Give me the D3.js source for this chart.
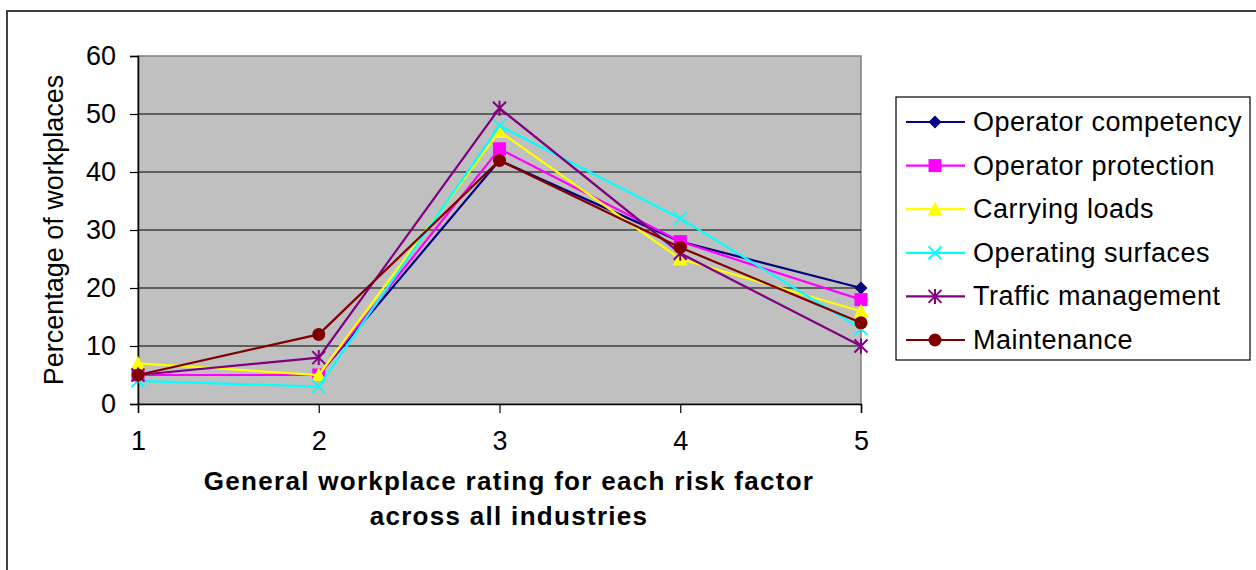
<!DOCTYPE html>
<html><head><meta charset="utf-8">
<script src="https://cdn.jsdelivr.net/npm/d3@7"></script>
<style>body{margin:0;background:#fff;} svg{display:block;font-family:"Liberation Sans",Arial,sans-serif;}</style>
</head><body><svg id="c" width="1256" height="570"></svg>
<script>
const categories = [1, 2, 3, 4, 5];
const seriesNames = ["Operator competency","Operator protection","Carrying loads","Operating surfaces","Traffic management","Maintenance"];
const operatorCompetency = [5, 5, 42, 28, 20];
const operatorProtection = [5, 5, 44, 28, 18];
const carryingLoads = [7, 5, 47, 25, 16];
const operatingSurfaces = [4, 3, 48, 32, 13];
const trafficManagement = [5, 8, 51, 26, 10];
const maintenance = [5, 12, 42, 27, 14];
const yTicks = [0, 10, 20, 30, 40, 50, 60];
const xTitleLines = ["General workplace rating for each risk factor", "across all industries"];
const yTitle = "Percentage of workplaces";

const colors = ["#000080","#FF00FF","#FFFF00","#00FFFF","#800080","#800000"];
const markers = ["diamond","square","triangle","x","star","circle"];
const allValues = [operatorCompetency, operatorProtection, carryingLoads, operatingSurfaces, trafficManagement, maintenance];
const series = seriesNames.map((n,i)=>({name:n, values:allValues[i], color:colors[i], marker:markers[i]}));

const svg = d3.select("#c");
svg.append("rect").attr("x",7).attr("y",11).attr("width",1280).attr("height",600)
  .attr("fill","none").attr("stroke","#404040").attr("stroke-width",2);

const L=138, R=861, T=56, B=404;
const x = d3.scaleLinear().domain([1,5]).range([L,R]);
const y = d3.scaleLinear().domain([0,60]).range([B,T]);

svg.append("rect").attr("x",L).attr("y",T).attr("width",R-L).attr("height",B-T).attr("fill","#C0C0C0")
  .attr("stroke","#808080").attr("stroke-width",1.5);

svg.append("g").selectAll("line").data(yTicks.filter(t=>t>0&&t<60)).join("line")
  .attr("x1",L).attr("x2",R).attr("y1",d=>y(d)).attr("y2",d=>y(d))
  .attr("stroke","#000").attr("stroke-width",1.2);

const yAxis = d3.axisLeft(y).tickValues(yTicks).tickSize(8).tickPadding(10).tickFormat(d3.format("d"));
const gy = svg.append("g").attr("transform",`translate(${L},0)`).call(yAxis);
gy.select(".domain").attr("stroke","#000").attr("stroke-width",1.5);
gy.selectAll(".tick line").attr("stroke","#000").attr("stroke-width",1.2);
gy.selectAll(".tick text").attr("font-size","27px").attr("fill","#000").attr("font-family","Liberation Sans, Arial, sans-serif").attr("dx","-4px");

const xAxis = d3.axisBottom(x).tickValues(categories).tickSize(9).tickPadding(18).tickFormat(d3.format("d"));
const gx = svg.append("g").attr("transform",`translate(0,${B})`).call(xAxis);
gx.select(".domain").attr("stroke","#000").attr("stroke-width",1.5);
gx.selectAll(".tick line").attr("stroke","#000").attr("stroke-width",1.2);
gx.selectAll(".tick text").attr("font-size","27px").attr("fill","#000").attr("font-family","Liberation Sans, Arial, sans-serif");

svg.append("text").attr("transform",`translate(63,${(T+B)/2}) rotate(-90)`).attr("text-anchor","middle")
  .attr("font-size","27px").attr("fill","#000").text(yTitle);
svg.selectAll(".xt").data(xTitleLines).join("text").attr("class","xt")
  .attr("x",509).attr("y",(d,i)=>490+i*35).attr("text-anchor","middle")
  .attr("font-size","26px").attr("font-weight","bold").attr("letter-spacing","1.3px").attr("fill","#000").text(d=>d);

function drawMarker(g, type, color, cx, cy){
  const s=6.5;
  if(type==="diamond") g.append("path").attr("d",`M${cx},${cy-s}L${cx+s},${cy}L${cx},${cy+s}L${cx-s},${cy}Z`).attr("fill",color);
  else if(type==="square") g.append("rect").attr("x",cx-s).attr("y",cy-s).attr("width",2*s).attr("height",2*s).attr("fill",color);
  else if(type==="triangle") g.append("path").attr("d",`M${cx},${cy-s-1}L${cx+s+1},${cy+s}L${cx-s-1},${cy+s}Z`).attr("fill",color);
  else if(type==="circle") g.append("circle").attr("cx",cx).attr("cy",cy).attr("r",s).attr("fill",color);
  else if(type==="x") g.append("path").attr("d",`M${cx-s},${cy-s}L${cx+s},${cy+s}M${cx-s},${cy+s}L${cx+s},${cy-s}`).attr("stroke",color).attr("stroke-width",2).attr("fill","none");
  else if(type==="star") g.append("path").attr("d",`M${cx-s},${cy-s}L${cx+s},${cy+s}M${cx-s},${cy+s}L${cx+s},${cy-s}M${cx},${cy-s-1}L${cx},${cy+s+1}`).attr("stroke",color).attr("stroke-width",2).attr("fill","none");
}

const line = d3.line().x((d,i)=>x(categories[i])).y(d=>y(d));
series.forEach(s=>{
  const g = svg.append("g");
  g.append("path").datum(s.values).attr("d",line).attr("fill","none").attr("stroke",s.color).attr("stroke-width",2.2);
  s.values.forEach((v,i)=>drawMarker(g, s.marker, s.color, x(categories[i]), y(v)));
});

const lg = svg.append("g");
lg.append("rect").attr("x",896).attr("y",97).attr("width",354).attr("height",263).attr("fill","#fff").attr("stroke","#000").attr("stroke-width",1.2);
series.forEach((s,i)=>{
  const cy = 122 + i*43.6;
  lg.append("line").attr("x1",906).attr("x2",965).attr("y1",cy).attr("y2",cy).attr("stroke",s.color).attr("stroke-width",2.2);
  drawMarker(lg, s.marker, s.color, 935, cy);
  lg.append("text").attr("x",973).attr("y",cy+9).attr("font-size","27px").attr("letter-spacing","0.5px").attr("fill","#000").text(s.name);
});
</script></body></html>
